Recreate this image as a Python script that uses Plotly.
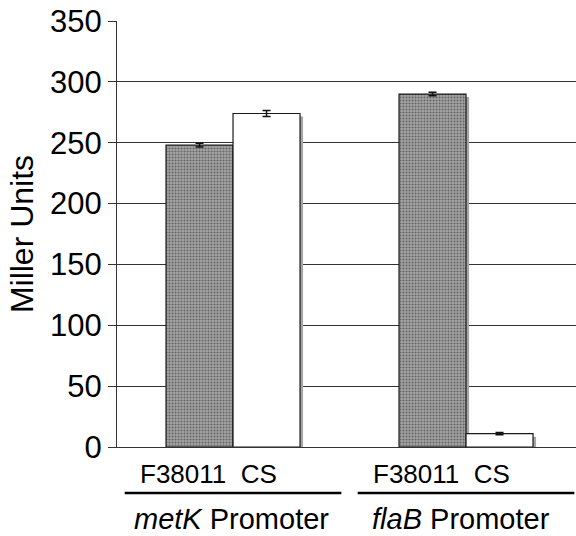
import plotly.graph_objects as go

# Promoter groups and strains
promoters = ["metK", "flaB"]
strains = ["F38011", "CS"]

# Miller units (mean) and error per strain, ordered by promoter
f38011_values = [248, 290]
f38011_errors = [1.5, 1.5]
cs_values = [274, 11]
cs_errors = [2.5, 1.0]

y_ticks = [0, 50, 100, 150, 200, 250, 300, 350]

FONT = "Liberation Sans, Arial, sans-serif"
BAR_W = 0.2876          # bar width in category units
SHADOW_DX = 0.013       # drop-shadow shift (category units)
SHADOW_DY = 2.5         # drop-shadow shift (Miller units)

fig = go.Figure()

series = [
    (strains[0], f38011_values, f38011_errors, -BAR_W, True),
    (strains[1], cs_values, cs_errors, 0.0, False),
]

# drop shadows behind each bar
for name, vals, errs, off, patterned in series:
    fig.add_trace(go.Bar(
        x=promoters, y=vals, base=[-SHADOW_DY] * len(vals),
        offset=off + SHADOW_DX, width=BAR_W,
        marker=dict(color="#a6a6a6", line=dict(width=0)),
        hoverinfo="skip", showlegend=False,
    ))

# main bars with error bars
for name, vals, errs, off, patterned in series:
    marker = dict(color="#a4a4a4" if patterned else "white",
                  line=dict(color="#1a1a1a", width=1.2))
    if patterned:
        marker["pattern"] = dict(shape=".", fgcolor="#2a2a2a", size=3, solidity=0.4)
    fig.add_trace(go.Bar(
        x=promoters, y=vals, name=name,
        offset=off, width=BAR_W,
        marker=marker,
        error_y=dict(type="data", array=errs, visible=True,
                     color="#111111", thickness=1.5, width=4),
        showlegend=False,
    ))

# strain labels under each group
for i, p in enumerate(promoters):
    fig.add_annotation(x=i, y=-0.063, xref="x", yref="paper",
                       text=f"{strains[0]}  {strains[1]}", showarrow=False,
                       xshift=-25, font=dict(family=FONT, size=26, color="black"),
                       xanchor="center", yanchor="middle")
    fig.add_shape(type="line", xref="x", yref="paper",
                  x0=i - 0.465, x1=i + 0.465, y0=-0.108, y1=-0.108,
                  line=dict(color="black", width=2.5))
    fig.add_annotation(x=i, y=-0.168, xref="x", yref="paper",
                       text=f"<i>{p}</i> Promoter", showarrow=False,
                       xshift=-2 if i == 0 else -5,
                       font=dict(family=FONT, size=29, color="black"),
                       xanchor="center", yanchor="middle")

fig.update_layout(
    width=576, height=536,
    margin=dict(l=117, r=0, t=21, b=89),
    paper_bgcolor="white", plot_bgcolor="white",
    barmode="overlay",
    font=dict(family=FONT, color="black"),
    xaxis=dict(
        type="category", range=[-0.498, 1.472],
        showticklabels=False, ticks="", showgrid=False,
        showline=True, linecolor="#333333", linewidth=1.2,
        zeroline=False,
    ),
    yaxis=dict(
        range=[0, 350], tickvals=y_ticks,
        ticks="outside", ticklen=8, tickcolor="#333333", tickwidth=1,
        showline=True, linecolor="#333333", linewidth=1.2,
        showgrid=True, gridcolor="#333333", gridwidth=1.3,
        zeroline=False,
        tickfont=dict(family=FONT, size=31, color="black"),
        title=dict(text="Miller Units", standoff=6,
                   font=dict(family=FONT, size=32, color="black")),
    ),
)

fig.write_html("out.html")
